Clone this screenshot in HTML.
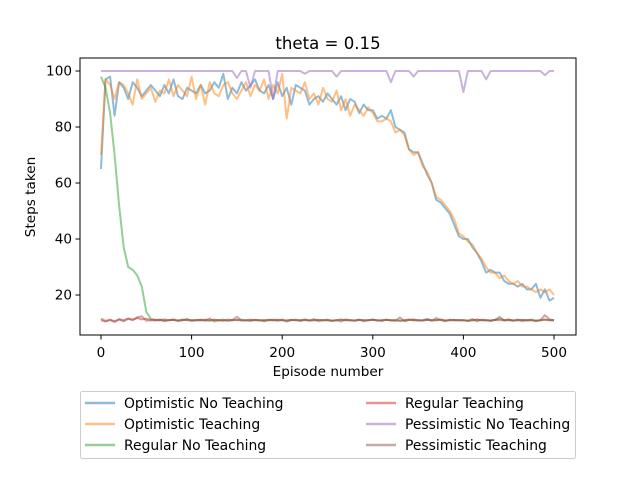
<!DOCTYPE html>
<html><head><meta charset="utf-8"><style>
body{margin:0;background:#fff;}
svg{display:block;font-family:"DejaVu Sans","Liberation Sans",sans-serif;}
</style></head><body>
<svg id="chart" width="640" height="480" viewBox="0 0 640 480">
<rect width="640" height="480" fill="#fff"/>
<text x="328" y="49" font-size="16.6" text-anchor="middle">theta = 0.15</text>
<g id="plot"></g>
<rect x="80" y="58" width="496" height="277" fill="none" stroke="#000" stroke-width="1"/>
<g id="axes"></g>
<text x="328" y="376" font-size="13.6" text-anchor="middle">Episode number</text>
<text transform="translate(35,197) rotate(-90)" font-size="13.6" text-anchor="middle">Steps taken</text>
<g id="legend">
<rect x="80.5" y="391.5" width="495" height="67" rx="2" fill="#fff" stroke="#ccc"/>
</g>
</svg>
<script>
const episodes = [];
for (let e = 0; e <= 500; e += 5) episodes.push(e);
const optimisticNoTeaching = [65,97,98,84,96,94,90,96,94,91,93,95,93,91,95,92,97,91,90,94,93,92,95,92,93,96,94,99,90,94,92,96,93,95,97,93,92,95,90,96,91,94,88,95,94,93,88,90,91,89,92,90,88,91,86,90,89,85,88,86,86,83,84,83,86,80,79,78,72,71,71,67,63,60,54,53,51,49,45,41,40,40,37,35,32,28,29,28,28,25,24,24,23,24,22,22,24,19,22,18,19];
const optimisticTeaching = [70,97,95,90,96,95,92,88,97,90,92,94,89,93,92,97,91,95,93,91,98,90,95,88,96,92,91,95,96,92,90,93,96,91,95,93,97,90,95,92,99,83,94,93,92,96,90,92,88,94,90,89,93,86,90,84,88,86,84,87,85,82,82,83,82,78,79,77,72,70,71,66,64,60,55,54,52,50,47,42,41,39,38,35,33,30,28,28,26,27,25,24,25,23,23,22,21,22,21,22,20];
const regularNoTeaching = [98,94,85,70,52,37,30,29,27,23,14,11.5,11,11.2,10.9,11,11.1,10.8,11,11.2,11,10.9,11.1,11,10.8,11.2,11,11,10.9,11.1,11,11.2,10.9,11,11.1,11,10.8,11,11.2,11,11,10.9,11.1,11,11,11.2,10.9,11,11.1,11,11,10.8,11,11.2,11,11,10.9,11.1,11,11,11.2,10.9,11,11.1,11,11,10.8,11,11.2,11,11,10.9,11.1,11,11,11.2,10.9,11,11.1,11,11,10.8,11,11.2,11,11,10.9,11.1,11.5,11,11.2,10.9,11,11.1,11,11,10.8,11,11.2,11,11];
const regularTeaching = [11.5,10.8,11.2,10.6,11.4,11,11.6,11.2,11.8,11.3,11.5,11.1,11.2,10.9,11.3,11,11.1,10.9,11.2,11,11,11.1,10.9,11.2,11,11.1,11,10.8,11.2,11,11.1,10.9,11,11.2,11,10.9,11.1,11,11,11.2,11,10.9,11.1,11,11,11.2,10.9,11,11.1,11,11,10.8,11,11.2,11,11,10.9,11.1,11,11,11.2,10.9,11,11.1,11,11,10.8,11,11.2,11,11,10.9,11.1,11,11,11.2,10.9,11,11.1,11,11,10.8,11,11.2,11,11,10.9,11.1,11,11,11.2,10.9,11,11.1,11,11,10.8,11,11.2,11,11];
const pessimisticNoTeaching = [100,100,100,100,100,100,100,100,100,100,100,100,100,100,100,100,100,100,100,100,100,100,100,100,100,100,100,100,100,100,97.5,100,100,94,100,100,100,100,90,100,100,100,100,100,100,99,100,100,100,100,100,100,98,100,100,100,100,100,100,100,100,100,100,100,96,100,100,100,100,98,100,100,100,100,100,100,100,100,100,100,92.5,100,100,100,100,97,100,100,100,100,100,100,100,100,100,100,100,100,98.5,100,100];
const pessimisticTeaching = [11,10.5,11,10.4,11.2,10.6,11.5,11,12,12.4,10.8,11,10.9,11.2,10.6,11,11.3,10.8,11,11.4,10.7,11,11.2,10.8,11.6,10.5,11,11.2,10.8,11,12.2,10.9,11,10.7,11.1,11,10.6,11.2,11,10.8,11.3,10.5,11,11.2,10.7,11,10.9,11.4,10.6,11,11.2,10.8,11,10.5,11.3,11,10.8,11.2,10.6,11,11.1,11,10.7,11.2,10.9,10.8,12,10.6,11,11.3,10.9,11,11.5,10.8,11.8,11,10.6,11.2,10.9,11,11,10.8,11.4,10.6,11.2,11,10.7,11.1,12.2,10.9,11,10.8,11.3,10.6,11,11.2,10.7,11,12.8,11.3,11];
const seriesNames = ["Optimistic No Teaching","Optimistic Teaching","Regular No Teaching","Regular Teaching","Pessimistic No Teaching","Pessimistic Teaching"];
const seriesData = [optimisticNoTeaching, optimisticTeaching, regularNoTeaching, regularTeaching, pessimisticNoTeaching, pessimisticTeaching];
const xTicks = [0,100,200,300,400,500];
const yTicks = [20,40,60,80,100];

const colors = ["#1f77b4","#ff7f0e","#2ca02c","#d62728","#9467bd","#8c564b"];
const NS = "http://www.w3.org/2000/svg";
function xs(v){ return 101 + (v - 0) * (554 - 101) / 500; }
function ys(v){ return 351 - v * 2.8; }
const plot = document.getElementById('plot');
seriesData.forEach((arr, i) => {
  const d = arr.map((v, k) => (k ? 'L' : 'M') + xs(episodes[k]).toFixed(1) + ' ' + ys(v).toFixed(1)).join(' ');
  const p = document.createElementNS(NS, 'path');
  p.setAttribute('d', d);
  p.setAttribute('fill', 'none');
  p.setAttribute('stroke', colors[i]);
  p.setAttribute('stroke-width', '2');
  p.setAttribute('stroke-opacity', '0.5');
  p.setAttribute('stroke-linejoin', 'round');
  
  
  plot.appendChild(p);
});
const axes = document.getElementById('axes');
xTicks.forEach(t => {
  const l = document.createElementNS(NS, 'line');
  l.setAttribute('x1', xs(t)); l.setAttribute('x2', xs(t));
  l.setAttribute('y1', 335); l.setAttribute('y2', 339.5);
  l.setAttribute('stroke', '#000');
  
  
  axes.appendChild(l);
  const tx = document.createElementNS(NS, 'text');
  tx.setAttribute('x', xs(t)); tx.setAttribute('y', 357);
  tx.setAttribute('font-size', '13.6'); tx.setAttribute('text-anchor', 'middle');
  tx.textContent = t;
  
  
  axes.appendChild(tx);
});
yTicks.forEach(t => {
  const l = document.createElementNS(NS, 'line');
  l.setAttribute('x1', 75.5); l.setAttribute('x2', 80);
  l.setAttribute('y1', ys(t)); l.setAttribute('y2', ys(t));
  l.setAttribute('stroke', '#000');
  
  
  axes.appendChild(l);
  const tx = document.createElementNS(NS, 'text');
  tx.setAttribute('x', 72); tx.setAttribute('y', ys(t) + 4.5);
  tx.setAttribute('font-size', '13.6'); tx.setAttribute('text-anchor', 'end');
  tx.textContent = t;
  
  
  axes.appendChild(tx);
});
const legend = document.getElementById('legend');
seriesNames.forEach((n, i) => {
  const col = Math.floor(i / 3), row = i % 3;
  const lx = col ? 366 : 85, ly = 403 + row * 21;
  const l = document.createElementNS(NS, 'line');
  l.setAttribute('x1', lx); l.setAttribute('x2', lx + 30);
  l.setAttribute('y1', ly); l.setAttribute('y2', ly);
  l.setAttribute('stroke', colors[i]); l.setAttribute('stroke-width', '2.5'); l.setAttribute('stroke-opacity', '0.5');
  
  
  legend.appendChild(l);
  const tx = document.createElementNS(NS, 'text');
  tx.setAttribute('x', lx + 39); tx.setAttribute('y', ly + 5);
  tx.setAttribute('font-size', '13.9');
  tx.textContent = n;
  
  
  legend.appendChild(tx);
});
</script>
</body></html>
